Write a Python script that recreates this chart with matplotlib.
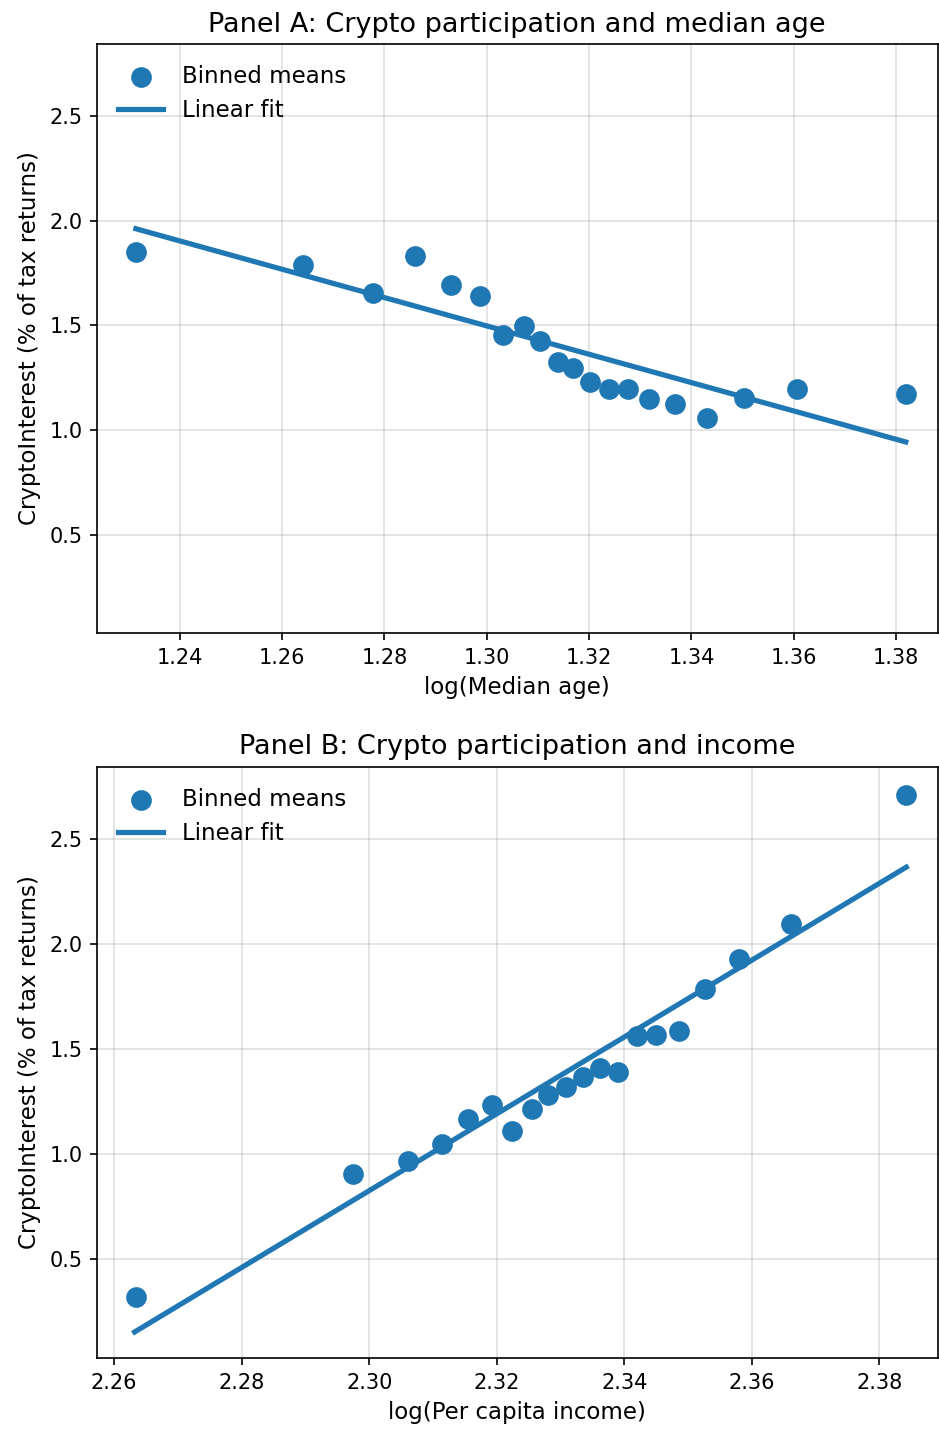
import numpy as np
import matplotlib
matplotlib.use("Agg")
import matplotlib.pyplot as plt

# Panel A data: log(median age) vs crypto interest
age_x = [1.2314, 1.2640, 1.2777, 1.2859, 1.2930, 1.2986, 1.3031, 1.3072, 1.3104, 1.3139,
         1.3168, 1.3201, 1.3238, 1.3276, 1.3318, 1.3367, 1.3430, 1.3502, 1.3606, 1.3819]
age_y = [1.852, 1.790, 1.657, 1.833, 1.695, 1.643, 1.452, 1.495, 1.424, 1.324,
         1.295, 1.229, 1.195, 1.195, 1.148, 1.124, 1.057, 1.152, 1.195, 1.171]
age_fit_x = [1.2314, 1.3819]
age_fit_y = [1.962, 0.943]

# Panel B data: log(per capita income) vs crypto interest
inc_x = [2.2634, 2.2974, 2.3061, 2.3114, 2.3155, 2.3192, 2.3223, 2.3255, 2.3280, 2.3308,
         2.3335, 2.3362, 2.3390, 2.3419, 2.3450, 2.3485, 2.3527, 2.3579, 2.3662, 2.3841]
inc_y = [0.319, 0.905, 0.967, 1.051, 1.168, 1.233, 1.110, 1.214, 1.281, 1.320,
         1.368, 1.411, 1.392, 1.563, 1.567, 1.587, 1.787, 1.932, 2.097, 2.714]
inc_fit_x = [2.2632, 2.3842]
inc_fit_y = [0.154, 2.368]

ylim = (0.03, 2.845)
color = "#1f77b4"

W, H = 939, 1432
fig = plt.figure(figsize=(W / 150, H / 150), dpi=150)

def px_axes(l, t, r, b):
    return fig.add_axes([l / W, 1 - b / H, (r - l) / W, (b - t) / H])

axA = px_axes(97, 44, 937.5, 633)
axB = px_axes(97, 767, 937.5, 1358)

panels = [
    (axA, age_x, age_y, age_fit_x, age_fit_y,
     "Panel A: Crypto participation and median age", "log(Median age)"),
    (axB, inc_x, inc_y, inc_fit_x, inc_fit_y,
     "Panel B: Crypto participation and income", "log(Per capita income)"),
]

for ax, x, y, fx, fy, title, xlabel in panels:
    ax.scatter(x, y, s=80, color=color, label="Binned means", zorder=3)
    ax.plot(fx, fy, color=color, lw=2.5, label="Linear fit", zorder=2)
    ax.set_ylim(*ylim)
    ax.set_yticks([0.5, 1.0, 1.5, 2.0, 2.5])
    ax.set_title(title, fontsize=13)
    ax.set_xlabel(xlabel, fontsize=11)
    ax.set_ylabel("CryptoInterest (% of tax returns)", fontsize=11)
    ax.tick_params(labelsize=10)
    ax.grid(True, color="#b0b0b0", alpha=0.4, lw=0.8)
    ax.set_axisbelow(True)
    ax.legend(loc="upper left", frameon=False, fontsize=11)

axA.set_xticks([1.24, 1.26, 1.28, 1.30, 1.32, 1.34, 1.36, 1.38])
axA.set_xlim(1.2238, 1.3881)
axB.set_xticks([2.26, 2.28, 2.30, 2.32, 2.34, 2.36, 2.38])
axB.set_xlim(2.2573, 2.3891)

fig.savefig("out.png", dpi=150)
